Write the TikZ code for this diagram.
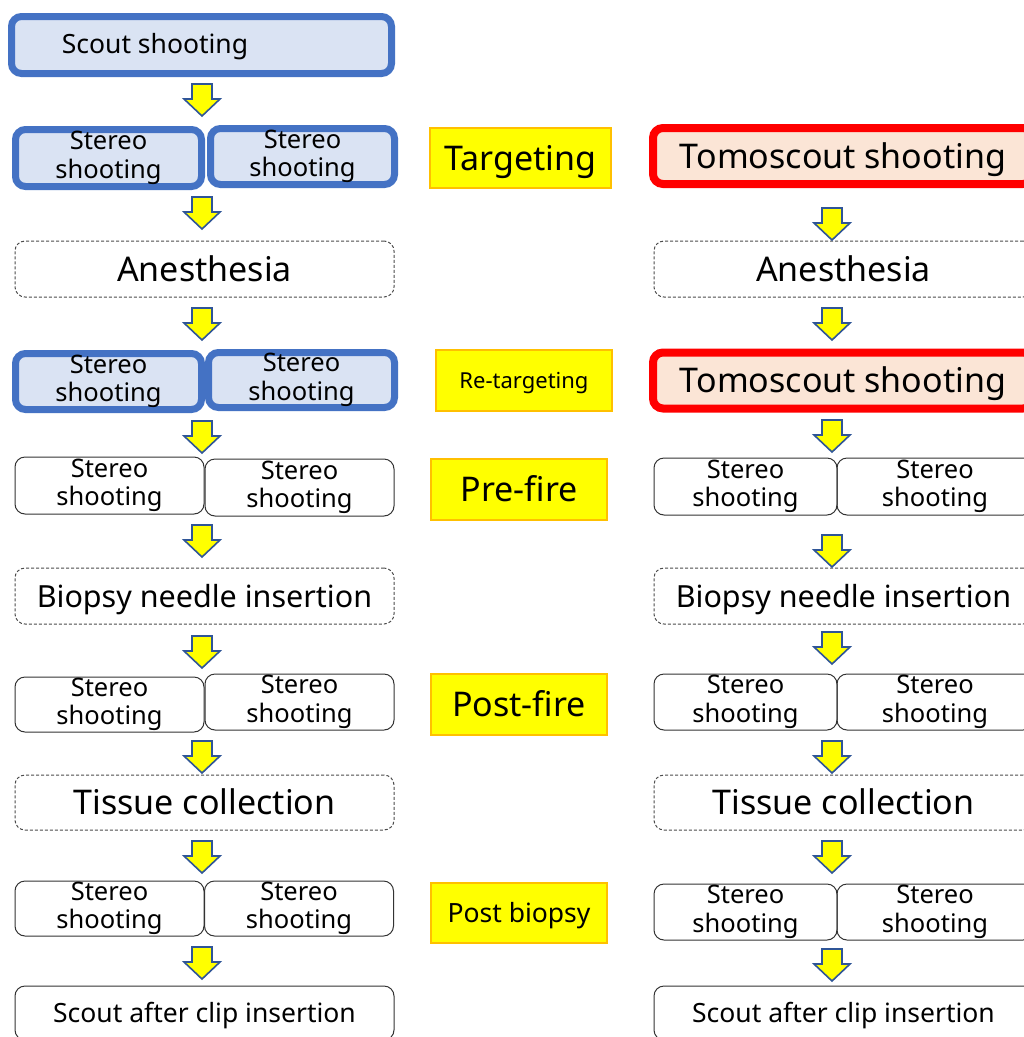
\documentclass[tikz,border=0pt]{standalone}
\usepackage{fontspec}
\setmainfont{Noto Sans}
\usetikzlibrary{positioning}

\definecolor{blueline}{HTML}{4472C4}
\definecolor{bluefill}{HTML}{DAE3F3}
\definecolor{redline}{HTML}{FF0000}
\definecolor{redfill}{HTML}{FBE5D6}
\definecolor{yelfill}{HTML}{FFFF00}
\definecolor{yelline}{HTML}{FFC000}
\definecolor{arrline}{HTML}{2F5597}

\newcommand{\bigtxt}{\fontsize{34}{40}\selectfont}
\newcommand{\midtxt}{\fontsize{30.5}{36}\selectfont}
\newcommand{\smtxt}{\fontsize{26.5}{30}\selectfont}
\newcommand{\sttxt}{\fontsize{25.5}{28.5}\selectfont}
\newcommand{\tinytxt}{\fontsize{22}{26}\selectfont}

\tikzset{
  downarrow/.pic={
    \draw[fill=yelfill,draw=arrline,line width=1.6pt,line join=miter]
      (-10,0) -- (10,0) -- (10,15) -- (18,15) -- (0,32) -- (-18,15) -- (-10,15) -- cycle;
  }
}

\begin{document}
\begin{tikzpicture}[x=1pt,y=-1pt,
    box/.style={inner sep=0pt,align=center,text=black},
    one/.style={text height=#1,text depth=0pt},
    blu/.style={box,draw=blueline,fill=bluefill,line width=7pt,rounded corners=10pt,font=\sttxt},
    red/.style={box,one=24.5pt,draw=redline,fill=redfill,line width=8pt,rounded corners=10pt,font=\bigtxt},
    yel/.style={box,one=24.5pt,draw=yelline,fill=yelfill,line width=1.5pt,font=\bigtxt},
    pln/.style={box,draw=black!80,line width=1pt,rounded corners=10pt,font=\sttxt},
    dsh/.style={box,one=24.5pt,draw=black!70,line width=1pt,dash pattern=on 3pt off 2pt,rounded corners=10pt,font=\bigtxt},
    stw/.style={minimum width=189,minimum height=56},
    wide/.style={minimum width=379,minimum height=56}]

  \useasboundingbox (0,0) rectangle (1024,1037);
  \fill[white] (0,0) rectangle (1024,1037);

  % left column
  \node[blu,minimum width=380,minimum height=57] (scout) at (201.5,45) {};
  \node[box,one=19pt,font=\smtxt] (scoutT) at (155,44) {Scout shooting};
  \node[blu,minimum width=186,minimum height=57] (stA1) at (108.5,158) {Stereo\\shooting};
  \node[blu,minimum width=184,minimum height=56] (stB1) at (302.5,156.5) {Stereo\\shooting};
  \node[dsh,wide] (anesL) at (204.5,269) {Anesthesia};
  \node[blu,minimum width=186,minimum height=56] (stA2) at (108.5,381.5) {Stereo\\shooting};
  \node[blu,minimum width=186,minimum height=55] (stB2) at (301.5,380) {Stereo\\shooting};
  \node[pln,stw,minimum height=57] (stA3) at (109.5,485.5) {Stereo\\shooting};
  \node[pln,stw,minimum height=57] (stB3) at (299.5,487.5) {Stereo\\shooting};
  \node[dsh,wide,one=22pt,font=\midtxt] (biopL) at (204.5,596) {Biopsy needle insertion};
  \node[pln,stw,minimum height=55] (stA4) at (109.5,704.5) {Stereo\\shooting};
  \node[pln,stw] (stB4) at (299.5,702) {Stereo\\shooting};
  \node[dsh,wide,minimum height=55] (tissL) at (204.5,802.5) {Tissue collection};
  \node[pln,stw,minimum height=55] (stA5) at (109.5,908.5) {Stereo\\shooting};
  \node[pln,stw,minimum height=55] (stB5) at (299,908.5) {Stereo\\shooting};
  \node[pln,one=19pt,wide,minimum height=54,font=\smtxt] (clipL) at (204.5,1013) {Scout after clip insertion};

  % phase labels
  \node[yel,minimum width=181,minimum height=60] (targ) at (520.5,158) {Targeting};
  \node[yel,one=16pt,minimum width=176,minimum height=61,font=\tinytxt] (retarg) at (524,380.5) {Re-targeting};
  \node[yel,minimum width=176,minimum height=61] (prefire) at (519,489.5) {Pre-fire};
  \node[yel,minimum width=176,minimum height=61] (postfire) at (519,704.5) {Post-fire};
  \node[yel,one=19pt,minimum width=176,minimum height=60,font=\smtxt] (postbio) at (519,913) {Post biopsy};

  % right column
  \node[red,minimum width=380,minimum height=56] (tomo1) at (843,156) {Tomoscout shooting};
  \node[dsh,wide] (anesR) at (843.5,269) {Anesthesia};
  \node[red,minimum width=380,minimum height=56] (tomo2) at (843,380.5) {Tomoscout shooting};
  \node[pln,minimum width=183,minimum height=57] (stC3) at (745.5,486.5) {Stereo\\shooting};
  \node[pln,minimum width=196,minimum height=57] (stD3) at (935,486.5) {Stereo\\shooting};
  \node[dsh,wide,one=22pt,font=\midtxt] (biopR) at (843.5,596) {Biopsy needle insertion};
  \node[pln,minimum width=183,minimum height=56] (stC4) at (745.5,702) {Stereo\\shooting};
  \node[pln,minimum width=196,minimum height=56] (stD4) at (935,702) {Stereo\\shooting};
  \node[dsh,wide,minimum height=55] (tissR) at (843.5,802.5) {Tissue collection};
  \node[pln,minimum width=183,minimum height=56] (stC5) at (745.5,912) {Stereo\\shooting};
  \node[pln,minimum width=196,minimum height=56] (stD5) at (935,912) {Stereo\\shooting};
  \node[pln,one=19pt,wide,minimum height=54,font=\smtxt] (clipR) at (843.5,1013) {Scout after clip insertion};

  % block arrows
  \foreach \y in {84,197,308,421,525,636,741,841,947}
    \pic at (202,\y) {downarrow};
  \foreach \y in {208,308,420,535,632,741,841,949}
    \pic at (832,\y) {downarrow};
\end{tikzpicture}
\end{document}
